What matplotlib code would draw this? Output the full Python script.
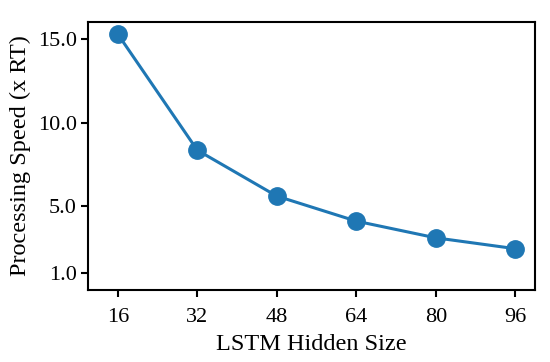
import matplotlib
matplotlib.use('Agg')
import matplotlib.pyplot as plt

hidden_size = [16, 32, 48, 64, 80, 96]
speed = [15.3, 8.35, 5.6, 4.1, 3.1, 2.45]
y_ticks = [1.0, 5.0, 10.0, 15.0]

plt.rcParams['font.family'] = ['Liberation Serif', 'DejaVu Serif']

fig, ax = plt.subplots(figsize=(5.5, 3.62), dpi=100)
ax.plot(hidden_size, speed, marker='o', color='#1f77b4', lw=2.2, markersize=12.5)
ax.set_xlim(10, 100)
ax.set_ylim(0, 16)
ax.set_xticks(hidden_size)
ax.set_yticks(y_ticks)
ax.set_yticklabels(['%.1f' % t for t in y_ticks])
ax.tick_params(labelsize=16, width=1.5, length=5, pad=3)
ax.tick_params(axis='x', pad=8)
for s in ax.spines.values():
    s.set_linewidth(1.5)
ax.set_xlabel('LSTM Hidden Size', fontsize=17.5, labelpad=5)
ax.set_ylabel('Processing Speed (x RT)', fontsize=17.5, labelpad=5)
fig.subplots_adjust(left=0.16, right=0.973, top=0.938, bottom=0.2)
fig.savefig('out.png')
